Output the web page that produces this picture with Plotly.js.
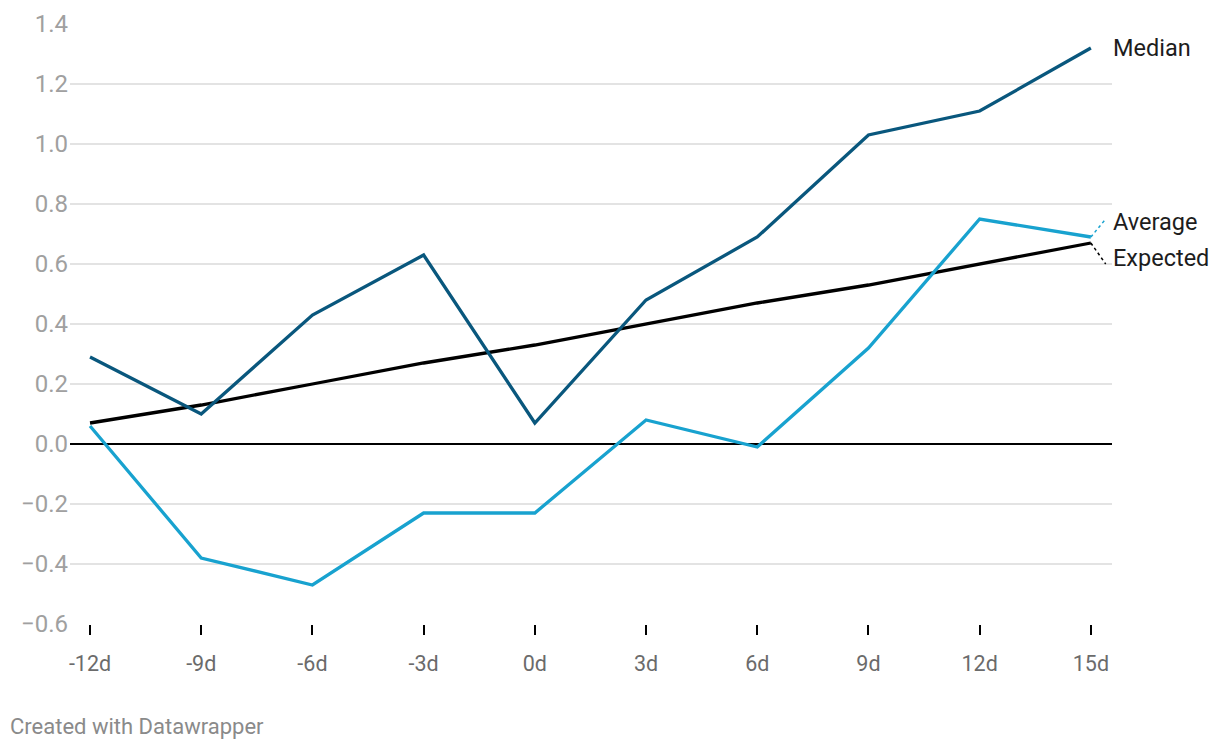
<!DOCTYPE html>
<html>
<head>
<meta charset="utf-8">
<script src="https://cdn.plot.ly/plotly-3.0.1.min.js"></script>
<style>
  html, body { margin: 0; padding: 0; background: #fff; }
  #chart { width: 1220px; height: 750px; }
</style>
</head>
<body>
<div id="chart"></div>
<script>
const days = [-12, -9, -6, -3, 0, 3, 6, 9, 12, 15];
const dayLabels = ["-12d", "-9d", "-6d", "-3d", "0d", "3d", "6d", "9d", "12d", "15d"];
const median = [0.29, 0.10, 0.43, 0.63, 0.07, 0.48, 0.69, 1.03, 1.11, 1.32];
const average = [0.06, -0.38, -0.47, -0.23, -0.23, 0.08, -0.01, 0.32, 0.75, 0.69];
const expected = [0.07, 0.13, 0.20, 0.27, 0.33, 0.40, 0.47, 0.53, 0.60, 0.67];
const yTicks = [-0.6, -0.4, -0.2, 0.0, 0.2, 0.4, 0.6, 0.8, 1.0, 1.2, 1.4];

const C_MED = "#09577d";
const C_AVG = "#18a2cf";
const C_EXP = "#000000";

const last = days.length - 1;
const xEnd = days[last];

const traces = [
  { x: days, y: expected, type: "scatter", mode: "lines", name: "Expected",
    line: { color: C_EXP, width: 3.3 }, cliponaxis: false, hoverinfo: "skip" },
  { x: days, y: average, type: "scatter", mode: "lines", name: "Average",
    line: { color: C_AVG, width: 3.3 }, cliponaxis: false, hoverinfo: "skip" },
  { x: days, y: median, type: "scatter", mode: "lines", name: "Median",
    line: { color: C_MED, width: 3.3 }, cliponaxis: false, hoverinfo: "skip" }
];

const labelFont = { family: "Roboto, sans-serif", size: 23.5, color: "#1d1d1d" };

const layout = {
  width: 1220, height: 750,
  margin: { l: 70, r: 108, t: 24, b: 126 },
  paper_bgcolor: "#ffffff", plot_bgcolor: "#ffffff",
  showlegend: false,
  font: { family: "Roboto, sans-serif" },
  xaxis: {
    range: [-12.54, 15.57],
    tickvals: days, ticktext: dayLabels,
    ticks: "outside", ticklen: 10, tickwidth: 2, tickcolor: "#000",
    ticklabelstandoff: 10,
    showgrid: false, zeroline: false, showline: false,
    tickfont: { family: "Roboto, sans-serif", size: 21.5, color: "#6b6b6b" },
    fixedrange: true
  },
  yaxis: {
    range: [-0.6, 1.4],
    tickvals: yTicks, tickformat: ".1f",
    ticks: "", showline: false,
    showgrid: true, gridcolor: "#e3e3e3", gridwidth: 1.5,
    zeroline: true, zerolinecolor: "#000", zerolinewidth: 1.5,
    ticklabelstandoff: 1,
    tickfont: { family: "Roboto, sans-serif", size: 24, color: "#a0a0a0" },
    fixedrange: true
  },
  shapes: [
    { type: "line", xref: "x", yref: "y", x0: xEnd, y0: average[last], x1: xEnd + 0.4, y1: average[last] + 0.06,
      line: { color: C_AVG, width: 1.5, dash: "dot" } },
    { type: "line", xref: "x", yref: "y", x0: xEnd, y0: expected[last], x1: xEnd + 0.4, y1: expected[last] - 0.07,
      line: { color: C_EXP, width: 1.5, dash: "dot" } }
  ],
  annotations: [
    { xref: "x", yref: "y", x: xEnd, y: median[last], text: "Median", showarrow: false,
      xanchor: "left", yanchor: "middle", xshift: 20, yshift: 0, font: labelFont },
    { xref: "x", yref: "y", x: xEnd, y: average[last], text: "Average", showarrow: false,
      xanchor: "left", yanchor: "middle", xshift: 20, yshift: 15, font: labelFont },
    { xref: "x", yref: "y", x: xEnd, y: expected[last], text: "Expected", showarrow: false,
      xanchor: "left", yanchor: "middle", xshift: 20, yshift: -15, font: labelFont },
    { xref: "paper", yref: "paper", x: -70/1042, y: -(726-624)/600, text: "Created with Datawrapper",
      showarrow: false, xanchor: "left", yanchor: "middle", xshift: 8,
      font: { family: "Roboto, sans-serif", size: 22, color: "#8a8a8a" } }
  ]
};

Plotly.newPlot("chart", traces, layout, { displayModeBar: false, staticPlot: true });
</script>
</body>
</html>
